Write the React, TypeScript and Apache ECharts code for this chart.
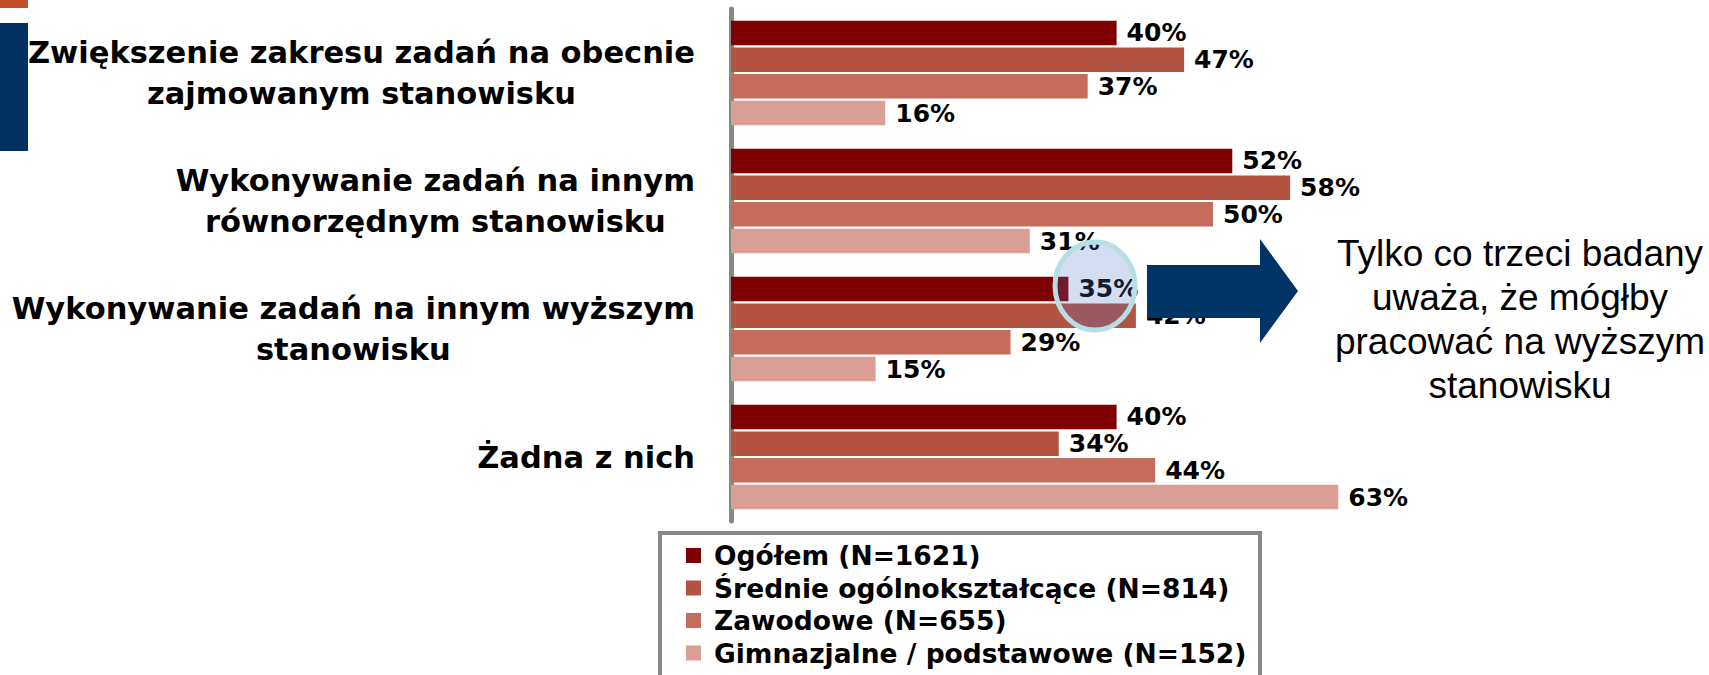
import React, { useEffect, useRef } from "react";
import * as echarts from "echarts";

const categories: string[] = [
  "Zwiększenie zakresu zadań na obecnie\nzajmowanym stanowisku",
  "Wykonywanie zadań na innym\nrównorzędnym stanowisku",
  "Wykonywanie zadań na innym wyższym\nstanowisku",
  "Żadna z nich",
];

const seriesNames: string[] = [
  "Ogółem (N=1621)",
  "Średnie ogólnokształcące (N=814)",
  "Zawodowe (N=655)",
  "Gimnazjalne / podstawowe (N=152)",
];

const ogolem: number[] = [40, 52, 35, 40];
const srednie: number[] = [47, 58, 42, 34];
const zawodowe: number[] = [37, 50, 29, 44];
const gimnazjalne: number[] = [16, 31, 15, 63];

const colors: string[] = ["#7F0000", "#B35443", "#C46D5C", "#D99F94"];

const calloutText = "Tylko co trzeci badany\nuważa, że mógłby\npracować na wyższym\nstanowisku";

const BOLD_FONT = "DejaVu Sans";

export default function App() {
  const ref = useRef<HTMLDivElement>(null);

  useEffect(() => {
    if (!ref.current) return;
    const chart = echarts.init(ref.current, undefined, { renderer: "svg" });
    const values = [ogolem, srednie, zawodowe, gimnazjalne];

    chart.setOption({
      animation: false,
      backgroundColor: "#ffffff",
      grid: { left: 731, top: 9, width: 964, height: 512, containLabel: false },
      xAxis: { type: "value", min: 0, max: 100, show: false },
      yAxis: {
        type: "category",
        inverse: true,
        data: categories,
        offset: 3,
        axisLine: { show: true, lineStyle: { color: "#888888", width: 5 } },
        axisTick: { show: false },
        splitLine: { show: false },
        axisLabel: {
          margin: 33,
          formatter: (v: string) =>
            v
              .split("\n")
              .map((l) => `{c|${l}}`)
              .join("\n"),
          rich: {
            c: {
              align: "center",
              fontSize: 30.5,
              fontFamily: BOLD_FONT,
              fontWeight: "bold",
              lineHeight: 41,
              color: "#000000",
            },
          },
        },
      },
      legend: {
        orient: "vertical",
        left: 686,
        top: 542,
        padding: 0,
        itemWidth: 15,
        itemHeight: 15,
        itemGap: 5.5,
        icon: "rect",
        data: seriesNames,
        textStyle: {
          fontFamily: BOLD_FONT,
          fontWeight: "bold",
          fontSize: 26.5,
          lineHeight: 26,
          color: "#000000",
          padding: [0, 0, 0, 8],
        },
      },
      graphic: [
        { type: "rect", z: 100, shape: { x: 0, y: 0, width: 28, height: 8 }, style: { fill: "#C4502A" } },
        { type: "rect", z: 100, shape: { x: 0, y: 23, width: 28, height: 128 }, style: { fill: "#003060" } },
        {
          type: "rect",
          z: 100,
          shape: { x: 660, y: 533, width: 600, height: 200 },
          style: { fill: "none", stroke: "#888888", lineWidth: 4 },
        },
        {
          type: "ellipse",
          z: 100,
          shape: { cx: 1095, cy: 286, rx: 40, ry: 44 },
          style: { fill: "rgba(78,111,191,0.24)", stroke: "#B7DEE2", lineWidth: 5 },
        },
        {
          type: "polygon",
          z: 100,
          shape: {
            points: [
              [1147, 265],
              [1260, 265],
              [1260, 239],
              [1298, 291],
              [1260, 343],
              [1260, 318],
              [1147, 318],
            ],
          },
          style: { fill: "#003466" },
        },
        {
          type: "text",
          z: 100,
          x: 1520,
          y: 319,
          style: {
            text: calloutText,
            fontFamily: "Liberation Sans",
            fontSize: 37,
            lineHeight: 44,
            fill: "#000000",
            align: "center",
            verticalAlign: "middle",
          },
        },
      ],
      series: seriesNames.map((name, i) => ({
        name,
        type: "bar",
        data: values[i],
        barWidth: 24.5,
        barGap: "9%",
        itemStyle: { color: colors[i] },
        label: {
          show: true,
          position: "right",
          distance: 10,
          formatter: "{c}%",
          fontFamily: BOLD_FONT,
          fontWeight: "bold",
          fontSize: 25,
          color: "#000000",
        },
      })),
    });

    return () => chart.dispose();
  }, []);

  return (
    <div
      ref={ref}
      style={{ position: "fixed", left: 0, top: 0, width: 1709, height: 675, background: "#fff" }}
    />
  );
}
